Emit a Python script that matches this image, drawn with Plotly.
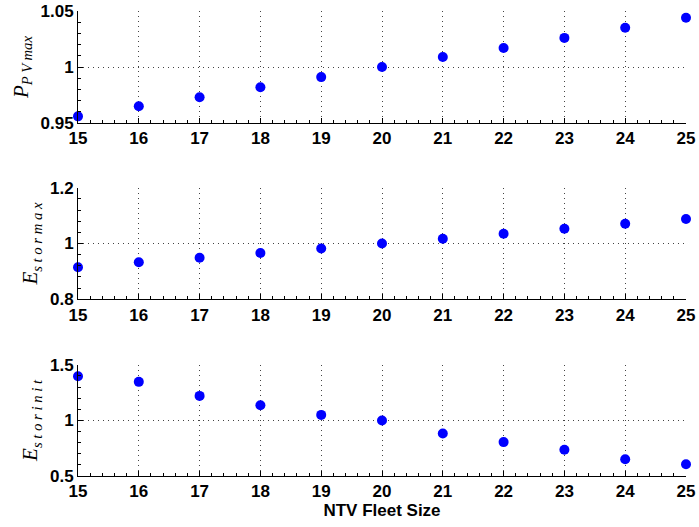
import plotly.graph_objects as go
from plotly.subplots import make_subplots

fleet_size = [15, 16, 17, 18, 19, 20, 21, 22, 23, 24, 25]
p_pv_max = [0.956, 0.965, 0.973, 0.982, 0.991, 1.000, 1.009, 1.017, 1.026, 1.035, 1.044]
e_stor_max = [0.915, 0.933, 0.949, 0.966, 0.982, 1.000, 1.017, 1.035, 1.053, 1.071, 1.088]
e_stor_init = [1.398, 1.347, 1.221, 1.137, 1.050, 1.000, 0.883, 0.805, 0.736, 0.650, 0.605]

panels = [
    (p_pv_max, "<i>P</i><sub><i>P V max</i></sub>", [0.95, 1.0, 1.05], ["0.95", "1", "1.05"], 0.01),
    (e_stor_max, "<i>E</i><sub><i>s t o r m a x</i></sub>", [0.8, 1.0, 1.2], ["0.8", "1", "1.2"], 0.04),
    (e_stor_init, "<i>E</i><sub><i>s t o r i n i t</i></sub>", [0.5, 1.0, 1.5], ["0.5", "1", "1.5"], 0.1),
]
domains = [[0.759, 1.0], [0.380, 0.620], [0.0, 0.239]]

fig = make_subplots(rows=3, cols=1)
tick_font = dict(family="Liberation Sans, Arial, sans-serif", size=17, color="black")
grid_style = dict(showgrid=True, gridcolor="#444444", griddash="1px,4px", gridwidth=1)

for i, (vals, title, tv, tt, minor_dt) in enumerate(panels, start=1):
    fig.add_trace(
        go.Scatter(
            x=fleet_size, y=vals, mode="markers",
            marker=dict(color="#0000ff", size=10, line=dict(width=0)),
            showlegend=False, cliponaxis=False,
        ),
        row=i, col=1,
    )
    fig.update_xaxes(
        range=[15, 25], tickvals=fleet_size, ticktext=[f"<b>{v}</b>" for v in fleet_size],
        tickfont=tick_font, ticks="inside", ticklen=5, tickcolor="black",
        showline=True, linecolor="black", linewidth=1, mirror=False,
        zeroline=False, automargin=False, **grid_style,
        minor=dict(ticks="inside", ticklen=3, dtick=0.2, tickcolor="black", showgrid=False),
        row=i, col=1,
    )
    fig.update_yaxes(
        range=[tv[0], tv[-1]], tickvals=tv, ticktext=[f"<b>{t}</b>" for t in tt],
        tickfont=tick_font, ticks="inside", ticklen=5, tickcolor="black",
        showline=True, linecolor="black", linewidth=1, mirror=False,
        zeroline=False, automargin=False, **grid_style,
        minor=dict(ticks="inside", ticklen=3, dtick=minor_dt, tick0=tv[0], tickcolor="black", showgrid=False),
        title=dict(text=title, font=dict(family="Liberation Serif, Times New Roman, serif", size=21, color="black"), standoff=6),
        domain=domains[i - 1],
        row=i, col=1,
    )

fig.update_xaxes(
    title=dict(text="<b>NTV Fleet Size</b>", font=dict(family="Liberation Sans, Arial, sans-serif", size=17, color="black"), standoff=0),
    row=3, col=1,
)

fig.update_layout(
    width=699, height=527,
    margin=dict(l=78, r=13, t=11, b=51, autoexpand=False),
    paper_bgcolor="white", plot_bgcolor="white",
)

fig.write_html("out.html")
